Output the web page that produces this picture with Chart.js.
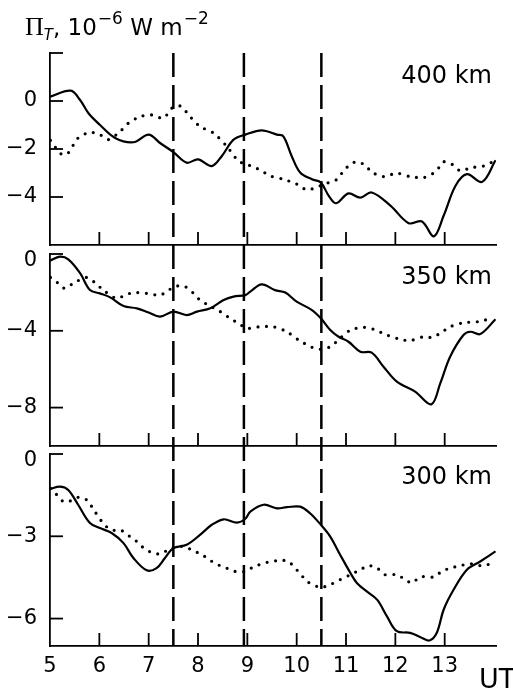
<!DOCTYPE html>
<html>
<head>
<meta charset="utf-8">
<script src="https://cdn.jsdelivr.net/npm/chart.js@4.4.0/dist/chart.umd.min.js"></script>
<style>
  html, body { margin: 0; padding: 0; background: #fff; }
  #wrap { position: relative; width: 513px; height: 689px; overflow: hidden; }
  canvas { position: absolute; left: 0; }
</style>
</head>
<body>
<div id="wrap">
  <canvas id="c400" width="513" height="250" style="top:0px"></canvas>
  <canvas id="c350" width="513" height="200" style="top:250px"></canvas>
  <canvas id="c300" width="513" height="239" style="top:450px"></canvas>
</div>
<script>
// hours UT, tick labels and the three marked moments
const xTicks = [5, 6, 7, 8, 9, 10, 11, 12, 13];
const dashX = [7.5, 8.93, 10.5];

// 400 km
const solid400X = [5, 5.42, 5.61, 5.78, 6.01, 6.32, 6.69, 7.0, 7.23, 7.5, 7.77, 8.0, 8.28, 8.48, 8.72, 8.96, 9.29, 9.6, 9.73, 9.9, 10.07, 10.31, 10.49, 10.65, 10.8, 11.05, 11.29, 11.52, 11.9, 12.27, 12.54, 12.78, 12.98, 13.22, 13.45, 13.76, 14.03];
const solid400Y = [0.18, 0.43, 0.04, -0.51, -0.99, -1.54, -1.72, -1.40, -1.75, -2.13, -2.57, -2.43, -2.71, -2.3, -1.61, -1.40, -1.22, -1.40, -1.47, -2.30, -2.98, -3.26, -3.40, -3.95, -4.26, -3.85, -4.03, -3.81, -4.36, -5.09, -5.02, -5.64, -4.77, -3.53, -3.05, -3.37, -2.47];
const dot400X = [5.01, 5.24, 5.37, 5.57, 5.81, 6.01, 6.18, 6.42, 6.59, 6.83, 7.06, 7.3, 7.47, 7.64, 7.84, 8.04, 8.31, 8.58, 8.82, 8.99, 9.16, 9.29, 9.46, 9.73, 10.0, 10.21, 10.48, 10.65, 10.82, 10.95, 11.09, 11.22, 11.39, 11.52, 11.76, 12.03, 12.3, 12.57, 12.76, 12.88, 12.98, 13.15, 13.32, 13.52, 13.79, 14.03];
const dot400Y = [-1.64, -2.23, -2.16, -1.54, -1.31, -1.40, -1.61, -1.27, -0.92, -0.65, -0.58, -0.71, -0.30, -0.21, -0.65, -1.06, -1.33, -1.88, -2.5, -2.64, -2.78, -2.91, -3.12, -3.26, -3.46, -3.70, -3.53, -3.40, -3.26, -2.91, -2.64, -2.53, -2.68, -2.96, -3.15, -3.01, -3.15, -3.19, -3.02, -2.78, -2.53, -2.64, -2.91, -2.78, -2.71, -2.47];
const yTicks400 = [2, 0, -2, -4];
const yLabels400 = ['', '0', '\u22122', '\u22124'];

// 350 km
const solid350X = [5, 5.2, 5.37, 5.61, 5.81, 6.01, 6.22, 6.49, 6.76, 7.0, 7.23, 7.5, 7.77, 7.98, 8.25, 8.52, 8.72, 8.96, 9.06, 9.29, 9.56, 9.77, 10.0, 10.31, 10.49, 10.68, 10.85, 11.05, 11.29, 11.52, 11.76, 12.03, 12.4, 12.73, 12.91, 13.11, 13.38, 13.52, 13.72, 14.03];
const solid350Y = [-0.35, -0.14, -0.28, -1.0, -1.88, -2.05, -2.26, -2.71, -2.83, -3.05, -3.26, -3.0, -3.18, -3.0, -2.83, -2.4, -2.22, -2.14, -1.96, -1.58, -1.88, -2.01, -2.48, -2.92, -3.35, -3.96, -4.31, -4.57, -5.09, -5.14, -5.87, -6.65, -7.17, -7.83, -6.74, -5.35, -4.22, -4.05, -4.17, -3.40];
const dot350X = [5.01, 5.17, 5.30, 5.47, 5.74, 5.91, 6.08, 6.35, 6.52, 6.69, 6.96, 7.23, 7.43, 7.57, 7.74, 7.91, 8.04, 8.21, 8.45, 8.65, 8.82, 8.99, 9.16, 9.26, 9.53, 9.80, 10.04, 10.31, 10.48, 10.68, 10.88, 11.09, 11.36, 11.56, 11.83, 12.10, 12.30, 12.57, 12.74, 12.91, 13.11, 13.38, 13.66, 13.82, 13.96];
const dot350Y = [-1.22, -1.53, -1.79, -1.53, -1.22, -1.49, -1.88, -2.31, -2.14, -2.01, -2.05, -2.14, -1.84, -1.67, -1.70, -2.05, -2.40, -2.66, -3.0, -3.35, -3.61, -3.87, -3.82, -3.79, -3.79, -4.05, -4.48, -4.86, -4.96, -4.83, -4.39, -3.96, -3.82, -3.92, -4.22, -4.44, -4.51, -4.31, -4.34, -4.13, -3.79, -3.58, -3.53, -3.44, -3.27];
const yTicks350 = [0, -4, -8];
const yLabels350 = ['0', '\u22124', '\u22128'];

// 300 km
const solid300X = [5, 5.2, 5.37, 5.57, 5.81, 6.01, 6.25, 6.49, 6.69, 6.96, 7.16, 7.33, 7.5, 7.77, 8.04, 8.28, 8.52, 8.79, 8.96, 9.06, 9.33, 9.6, 9.8, 10.07, 10.27, 10.49, 10.68, 10.88, 11.09, 11.22, 11.42, 11.63, 11.83, 12.03, 12.3, 12.5, 12.69, 12.84, 12.98, 13.18, 13.45, 13.72, 14.03];
const solid300Y = [-1.28, -1.19, -1.31, -1.85, -2.52, -2.70, -2.88, -3.25, -3.79, -4.24, -4.16, -3.79, -3.43, -3.31, -2.95, -2.58, -2.38, -2.50, -2.36, -2.10, -1.85, -1.98, -1.94, -1.92, -2.16, -2.58, -3.01, -3.67, -4.34, -4.70, -5.01, -5.31, -5.92, -6.46, -6.52, -6.67, -6.80, -6.52, -5.67, -4.95, -4.22, -3.92, -3.55];
const dot300X = [5.01, 5.14, 5.27, 5.41, 5.57, 5.74, 5.91, 6.05, 6.18, 6.32, 6.45, 6.62, 6.76, 6.89, 7.06, 7.23, 7.40, 7.57, 7.74, 7.91, 8.08, 8.25, 8.41, 8.58, 8.75, 8.96, 9.12, 9.40, 9.66, 9.83, 10.0, 10.24, 10.49, 10.68, 10.88, 11.09, 11.29, 11.46, 11.63, 11.79, 12.03, 12.20, 12.34, 12.50, 12.78, 12.94, 13.11, 13.32, 13.52, 13.72, 13.86, 14.04];
const dot300Y = [-1.25, -1.49, -1.73, -1.71, -1.58, -1.67, -2.10, -2.46, -2.70, -2.79, -2.79, -3.01, -3.19, -3.41, -3.59, -3.64, -3.49, -3.37, -3.39, -3.53, -3.67, -3.88, -4.04, -4.16, -4.28, -4.28, -4.12, -3.95, -3.88, -3.92, -4.22, -4.68, -4.86, -4.76, -4.58, -4.40, -4.22, -4.07, -4.16, -4.40, -4.40, -4.58, -4.70, -4.48, -4.48, -4.28, -4.16, -4.07, -4.00, -4.07, -4.04, -3.92];
const yTicks300 = [0, -3, -6];
const yLabels300 = ['0', '\u22123', '\u22126'];

const FONT = '"DejaVu Sans", sans-serif';
const zip = (xs, ys) => xs.map((x, i) => ({ x: x, y: ys[i] }));

const panels = [
  { id: 'c400', name: '400 km', solid: zip(solid400X, solid400Y), dots: zip(dot400X, dot400Y),
    min: -6, max: 2, ticks: yTicks400, labels: yLabels400,
    top: 0, height: 250, areaTop: 53, areaBottom: 245, first: true },
  { id: 'c350', name: '350 km', solid: zip(solid350X, solid350Y), dots: zip(dot350X, dot350Y),
    min: -10, max: 0, ticks: yTicks350, labels: yLabels350,
    top: 250, height: 200, areaTop: 254, areaBottom: 446 },
  { id: 'c300', name: '300 km', solid: zip(solid300X, solid300Y), dots: zip(dot300X, dot300Y),
    min: -7, max: 0, ticks: yTicks300, labels: yLabels300,
    top: 450, height: 239, areaTop: 454, areaBottom: 646, last: true }
];

function drawTitle(ctx) {
  let x = 25;
  const base = 35;
  ctx.fillStyle = '#000';
  ctx.textAlign = 'left';
  ctx.textBaseline = 'alphabetic';
  ctx.font = '26px "Liberation Serif", serif';
  ctx.fillText('\u03A0', x, base);
  x += ctx.measureText('\u03A0').width;
  ctx.font = 'italic 15px ' + FONT;
  ctx.fillText('T', x, base + 5);
  x += ctx.measureText('T').width;
  ctx.font = '23px ' + FONT;
  ctx.fillText(', 10', x, base);
  x += ctx.measureText(', 10').width + 1;
  ctx.font = '17px ' + FONT;
  ctx.fillText('\u22126', x, base - 11);
  x += ctx.measureText('\u22126').width;
  ctx.font = '23px ' + FONT;
  ctx.fillText(' W m', x, base);
  x += ctx.measureText(' W m').width + 1;
  ctx.font = '17px ' + FONT;
  ctx.fillText('\u22122', x, base - 11);
}

panels.forEach(p => {
  const decor = {
    id: 'decor',
    afterDatasetsDraw(chart) {
      const ctx = chart.ctx;
      const area = chart.chartArea;
      const xs = chart.scales.x;
      const ys = chart.scales.y;
      ctx.save();
      ctx.strokeStyle = '#000';
      ctx.fillStyle = '#000';

      // dashed vertical markers, phase kept continuous across the panels
      const y0 = p.first ? area.top : 0;
      const y1 = p.last ? area.bottom : chart.height;
      ctx.lineWidth = 2.5;
      ctx.setLineDash([24, 8]);
      ctx.lineDashOffset = (p.top + y0) - 53;
      dashX.forEach(v => {
        const px = xs.getPixelForValue(v);
        ctx.beginPath();
        ctx.moveTo(px, y0);
        ctx.lineTo(px, y1);
        ctx.stroke();
      });
      ctx.setLineDash([]);

      // inward tick marks
      ctx.lineWidth = 1.8;
      ys.ticks.forEach(t => {
        const py = ys.getPixelForValue(t.value);
        ctx.beginPath();
        ctx.moveTo(area.left, py);
        ctx.lineTo(area.left + 13, py);
        ctx.stroke();
      });
      xs.ticks.forEach(t => {
        if (t.value === xs.min) return;
        const px = xs.getPixelForValue(t.value);
        ctx.beginPath();
        ctx.moveTo(px, area.bottom);
        ctx.lineTo(px, area.bottom - 13);
        ctx.stroke();
      });

      // y tick labels
      ctx.font = '21px ' + FONT;
      ctx.textAlign = 'right';
      ctx.textBaseline = 'middle';
      ys.ticks.forEach(t => {
        const label = p.labels[p.ticks.indexOf(t.value)];
        if (!label) return;
        let py = ys.getPixelForValue(t.value);
        if (t.value === ys.max) py += 7;
        ctx.fillText(label, area.left - 13, py);
      });

      // altitude label
      ctx.font = '24px ' + FONT;
      ctx.textAlign = 'right';
      ctx.textBaseline = 'alphabetic';
      ctx.fillText(p.name, area.right - 4, area.top + 30);

      if (p.first) drawTitle(ctx);
      if (p.last) {
        ctx.font = '27px ' + FONT;
        ctx.textAlign = 'left';
        ctx.fillText('UT', 479, chart.height - 1);
      }
      ctx.restore();
    }
  };

  new Chart(document.getElementById(p.id), {
    type: 'line',
    data: {
      datasets: [
        { data: p.solid, borderColor: '#000', borderWidth: 2.2, pointRadius: 0, tension: 0.35, fill: false },
        { data: p.dots, borderColor: '#000', borderWidth: 3.2, borderDash: [0, 8.5], borderCapStyle: 'round',
          pointRadius: 0, tension: 0.3, fill: false }
      ]
    },
    options: {
      responsive: false,
      animation: false,
      events: [],
      layout: { padding: { top: p.areaTop - p.top, left: 0, right: 17, bottom: 0 } },
      plugins: { legend: { display: false }, tooltip: { enabled: false } },
      scales: {
        x: {
          type: 'linear', min: 5, max: 14.04,
          grid: { display: false },
          border: { display: true, color: '#000', width: 1.8 },
          afterBuildTicks: s => { s.ticks = xTicks.map(v => ({ value: v })); },
          afterFit: s => { s.height = p.height - (p.areaBottom - p.top); },
          ticks: {
            display: !!p.last, autoSkip: false, maxRotation: 0, padding: 0,
            color: '#000', font: { family: FONT, size: 21 },
            callback: v => String(v)
          }
        },
        y: {
          type: 'linear', min: p.min, max: p.max,
          grid: { display: false },
          border: { display: true, color: '#000', width: 1.8 },
          afterBuildTicks: s => { s.ticks = p.ticks.map(v => ({ value: v })); },
          afterFit: s => { s.width = 50; },
          ticks: { display: false }
        }
      }
    },
    plugins: [decor]
  });
});
</script>
</body>
</html>
